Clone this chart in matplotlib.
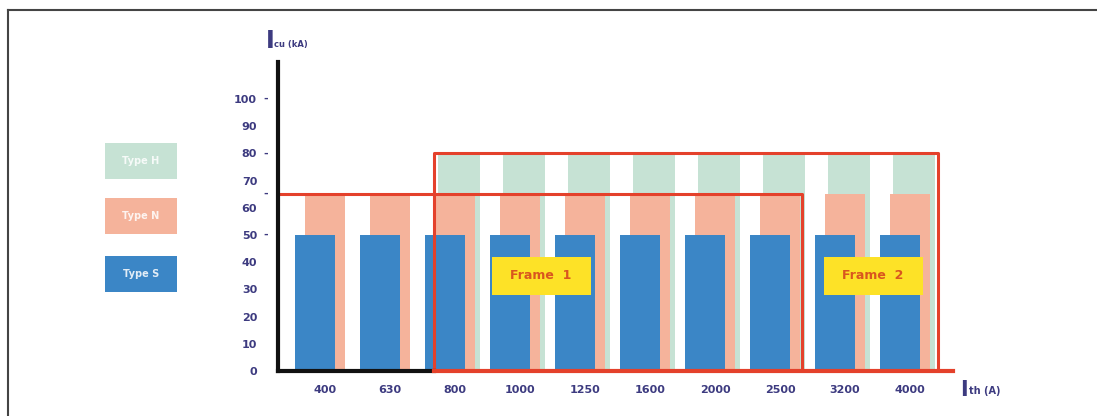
import numpy as np
import matplotlib
matplotlib.use("Agg")
import matplotlib.pyplot as plt
from matplotlib.lines import Line2D
from matplotlib.patches import Rectangle

# rated current (A) and short-circuit breaking capacity (kA) per breaker type
ratings = ["400", "630", "800", "1000", "1250", "1600", "2000", "2500", "3200", "4000"]
type_s = [50, 50, 50, 50, 50, 50, 50, 50, 50, 50]
type_n = [65, 65, 65, 65, 65, 65, 65, 65, 65, 65]
type_h = [None, None, 80, 80, 80, 80, 80, 80, 80, 80]
y_ticks = [0, 10, 20, 30, 40, 50, 60, 70, 80, 90, 100]
dashed_ticks = [50, 65, 80, 100]

frame1_last = "2500"
frame2_first = "800"

c_s = "#3b86c6"
c_n = "#f5b39b"
c_h = "#c6e2d4"
c_red = "#e4412b"
c_navy = "#3d3b80"
c_yellow = "#fde227"
c_frame_txt = "#d9561f"

W, H = 1097, 416
fig = plt.figure(figsize=(W / 100, H / 100), dpi=100)

# axes box in pixels: y axis at x=278, x axis at y=371, arrow end at x=953, top at y=62
x0, x1 = 278, 953
y0, y1 = 371, 62
ax = fig.add_axes([x0 / W, 1 - y0 / H, (x1 - x0) / W, (y0 - y1) / H])

xi = np.arange(len(ratings))
px = 65.0
xmin = (x0 - 325) / px
xmax = (x1 - 325) / px
ax.set_xlim(xmin, xmax)
ax.set_ylim(0, (y0 - y1) / 2.72)

bw = 40 / px
for i in xi:
    if type_h[i] is not None:
        ax.bar(i + 4 / px, type_h[i], width=bw + 2 / px, color=c_h, zorder=1)
ax.bar(xi, type_n, width=bw, color=c_n, zorder=2)
ax.bar(xi - 10 / px, type_s, width=bw, color=c_s, zorder=3)

# frame outlines
f1_right = ratings.index(frame1_last) + 0.34
f2_left = ratings.index(frame2_first) - 0.33
f2_right = len(ratings) - 1 + 0.43
lw = 2.2
ax.plot([xmin, f1_right, f1_right], [max(type_n), max(type_n), 0],
        color=c_red, lw=lw, zorder=5, clip_on=False, solid_capstyle="butt")
ax.plot([f2_left, f2_left, f2_right, f2_right], [0, 80, 80, 0],
        color=c_red, lw=lw, zorder=5, clip_on=False, solid_capstyle="butt")

# axis lines
ax.plot([xmin, xmin], [0, ax.get_ylim()[1]], color="#111111", lw=3, zorder=6, clip_on=False)
ax.plot([xmin, f2_left], [0, 0], color="#111111", lw=3, zorder=6, clip_on=False)
ax.plot([f2_left, xmax], [0, 0], color=c_red, lw=3, zorder=6, clip_on=False)

for s in ax.spines.values():
    s.set_visible(False)

ax.set_yticks(y_ticks)
ax.set_yticklabels([str(v) for v in y_ticks])
ax.set_xticks(xi)
ax.set_xticklabels(ratings)
ax.tick_params(axis="y", length=0, pad=15, labelsize=8, labelcolor=c_navy)
ax.tick_params(axis="x", length=0, pad=10, labelsize=8, labelcolor=c_navy)
for lab in ax.get_yticklabels() + ax.get_xticklabels():
    lab.set_fontweight("bold")

for v in dashed_ticks:
    ax.annotate("-", xy=(0, v), xycoords=("axes fraction", "data"),
                xytext=(-12, 0), textcoords="offset pixels",
                ha="center", va="center", fontsize=8, color=c_navy, fontweight="bold")

# frame labels on yellow boxes
def frame_label(xc, text):
    bw_box, bh_box = 99 / px, 38 / 2.72
    yc = 35
    ax.add_patch(Rectangle((xc - bw_box / 2, yc - bh_box / 2), bw_box, bh_box,
                           fc=c_yellow, ec="none", zorder=7))
    ax.text(xc, yc, text, ha="center", va="center", fontsize=9, color=c_frame_txt,
            fontweight="bold", zorder=8)

frame_label((541 - 325) / px, "Frame  1")
frame_label((873 - 325) / px, "Frame  2")

# axis titles
fig.text(266 / W, 1 - 48 / H, "I", fontsize=17, color=c_navy, fontweight="bold", va="baseline")
fig.text(274 / W, 1 - 47 / H, "cu (kA)", fontsize=6, color=c_navy, fontweight="bold", va="baseline")
fig.text(960 / W, 1 - 396 / H, "I", fontsize=15, color=c_navy, fontweight="bold", va="baseline")
fig.text(969 / W, 1 - 394 / H, "th (A)", fontsize=7, color=c_navy, fontweight="bold", va="baseline")

# legend boxes
legend = [("Type H", c_h, 143), ("Type N", c_n, 198), ("Type S", c_s, 256)]
for name, col, top in legend:
    fig.add_artist(Rectangle((105 / W, 1 - (top + 36) / H), 72 / W, 36 / H,
                             transform=fig.transFigure, fc=col, ec="none"))
    fig.text(141 / W, 1 - (top + 18) / H, name, ha="center", va="center",
             fontsize=7, color="white", fontweight="bold", alpha=0.85)

# outer frame
fig.add_artist(Line2D([8 / W, 1], [1 - 10 / H, 1 - 10 / H], color="#444444", lw=1.5,
                      transform=fig.transFigure))
fig.add_artist(Line2D([8 / W, 8 / W], [0, 1 - 10 / H], color="#444444", lw=1.5,
                      transform=fig.transFigure))

fig.savefig("out.png", dpi=100)
